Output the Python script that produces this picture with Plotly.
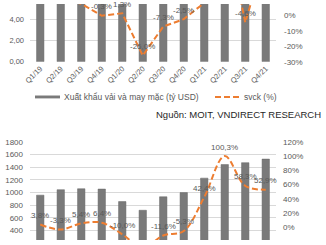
import plotly.graph_objects as go

quarters = ["Q1/19", "Q2/19", "Q3/19", "Q4/19", "Q1/20", "Q2/20",
            "Q3/20", "Q4/20", "Q1/21", "Q2/21", "Q3/21", "Q4/21"]

# Top chart: textile & garment exports (bn USD) and YoY growth (%)
top_exports = [7.6, 8.5, 10.0, 9.0, 7.4, 6.2, 9.3, 8.8, 8.2, 9.9, 8.3, 10.2]
top_yoy = [10.0, 11.0, 7.4, -0.3, 1.3, -26.0, -7.3, -2.5, 8.0, 60.0, -4.6, 40.0]

# Bottom chart: values and YoY growth (%)
bot_values = [957, 1043, 1058, 1053, 855, 718, 931, 997, 1226, 1440, 1470, 1527]
bot_yoy = [3.8, -3.3, 5.4, 6.4, -10.0, -29.0, -11.6, -5.3, 42.4, 100.3, 58.3, 52.9]

left_ticks_top = [0, 2, 4]
left_ticktext_top = ["0,00", "2,00", "4,00"]
right_ticks_top = [-30, -20, -10, 0]
right_ticktext_top = ["-30%", "-20%", "-10%", "0%"]

legend_bar = "Xuất khẩu vải và may mặc (tỷ USD)"
legend_line = "svck (%)"
source_text = "Nguồn: MOIT, VNDIRECT RESEARCH"


def pct(v):
    return f"{v:.1f}%".replace(".", ",")


FONT = "Liberation Sans, Arial, sans-serif"
GREY_TXT = "#595959"
BAR_C = "#7a7a7a"
LINE_C = "#ED7D31"
GRID_C = "#d9d9d9"

TOP_Y2_RANGE = [-30.01, 7.27]
BOT_Y4_RANGE = [-18, 120.4]

fig = go.Figure()

fig.add_trace(go.Bar(x=quarters, y=top_exports, xaxis="x", yaxis="y",
                     marker=dict(color=BAR_C, line=dict(color="#666666", width=0.5)),
                     width=0.36, showlegend=False))
fig.add_trace(go.Scatter(x=quarters, y=top_yoy, xaxis="x", yaxis="y2",
                         mode="lines",
                         line=dict(color=LINE_C, width=2, dash="6px,3px"),
                         showlegend=False))

fig.add_trace(go.Bar(x=quarters, y=bot_values, xaxis="x2", yaxis="y3",
                     marker=dict(color=BAR_C, line=dict(color="#666666", width=0.5)),
                     width=0.36, showlegend=False))
fig.add_trace(go.Scatter(x=quarters, y=bot_yoy, xaxis="x2", yaxis="y4",
                         mode="lines",
                         line=dict(color=LINE_C, width=2, dash="6px,3px",
                                   shape="spline", smoothing=1.0),
                         showlegend=False))

# Data labels
for q, v in zip(quarters, top_yoy):
    if TOP_Y2_RANGE[0] <= v <= TOP_Y2_RANGE[1]:
        fig.add_annotation(x=q, y=v, xref="x", yref="y2", text=pct(v),
                           showarrow=False, yshift=9, yanchor="middle",
                           font=dict(size=8, color=GREY_TXT, family=FONT))
for q, v in zip(quarters, bot_yoy):
    if BOT_Y4_RANGE[0] <= v <= BOT_Y4_RANGE[1]:
        fig.add_annotation(x=q, y=v, xref="x2", yref="y4", text=pct(v),
                           showarrow=False, yshift=9, yanchor="middle",
                           font=dict(size=8, color=GREY_TXT, family=FONT))

W, H = 326, 245
L, R = 30, 50
PW = W - L - R


def px(x):
    return (x - L) / PW


def py(y):
    return (H - y) / H


tickfont = dict(size=8, color=GREY_TXT, family=FONT)

fig.update_layout(
    width=W, height=H, autosize=False,
    margin=dict(l=L, r=R, t=0, b=0, pad=0),
    paper_bgcolor="white", plot_bgcolor="white",
    font=dict(family=FONT, color=GREY_TXT),
    xaxis=dict(domain=[0, 1], anchor="y", type="category",
               range=[-0.5, 11.5], tickangle=-45, showgrid=False,
               tickfont=dict(size=7.5, color=GREY_TXT, family=FONT),
               showline=False, zeroline=False, ticks=""),
    yaxis=dict(domain=[py(60), 1], anchor="x", range=[-0.001, 5.49],
               tickvals=left_ticks_top, ticktext=left_ticktext_top,
               tickfont=dict(size=7.5, color=GREY_TXT, family=FONT),
               showgrid=True, gridcolor=GRID_C, gridwidth=1,
               zeroline=False, ticks="", ticklabelstandoff=5),
    yaxis2=dict(overlaying="y", side="right", anchor="x", range=TOP_Y2_RANGE,
                tickvals=right_ticks_top, ticktext=right_ticktext_top,
                tickfont=tickfont, showgrid=False, zeroline=False, ticks="",
                ticklabelstandoff=7),
    xaxis2=dict(domain=[0, 1], anchor="y3", type="category",
                range=[-0.5, 11.5], showticklabels=False, showgrid=False,
                showline=False, zeroline=False, ticks=""),
    yaxis3=dict(domain=[0, py(143)], anchor="x2", range=[248, 1801],
                dtick=200, tick0=0, tickfont=tickfont,
                showgrid=True, gridcolor=GRID_C, gridwidth=1,
                zeroline=False, ticks="", ticklabelstandoff=6),
    yaxis4=dict(overlaying="y3", side="right", anchor="x2", range=BOT_Y4_RANGE,
                dtick=20, tick0=0, ticksuffix="%",
                tickfont=tickfont, showgrid=False, zeroline=False, ticks="",
                ticklabelstandoff=6),
)

# Legend (drawn manually)
fig.add_shape(type="rect", xref="paper", yref="paper",
              x0=px(35), x1=px(60), y0=py(98), y1=py(95),
              fillcolor=BAR_C, line=dict(width=0))
fig.add_annotation(xref="paper", yref="paper", x=px(62), y=py(96.5),
                   xanchor="left", yanchor="middle", showarrow=False,
                   text=legend_bar, font=dict(size=8.5, color=GREY_TXT, family=FONT))
fig.add_shape(type="line", xref="paper", yref="paper",
              x0=px(215), x1=px(240), y0=py(96.5), y1=py(96.5),
              line=dict(color=LINE_C, width=2, dash="6px,3px"))
fig.add_annotation(xref="paper", yref="paper", x=px(242), y=py(96.5),
                   xanchor="left", yanchor="middle", showarrow=False,
                   text=legend_line, font=dict(size=8.5, color=GREY_TXT, family=FONT))

# Source
fig.add_annotation(xref="paper", yref="paper", x=px(323), y=py(114.5),
                   xanchor="right", yanchor="middle", showarrow=False,
                   text=source_text, font=dict(size=9.5, color="#262626", family=FONT))

fig.write_html("out.html")
